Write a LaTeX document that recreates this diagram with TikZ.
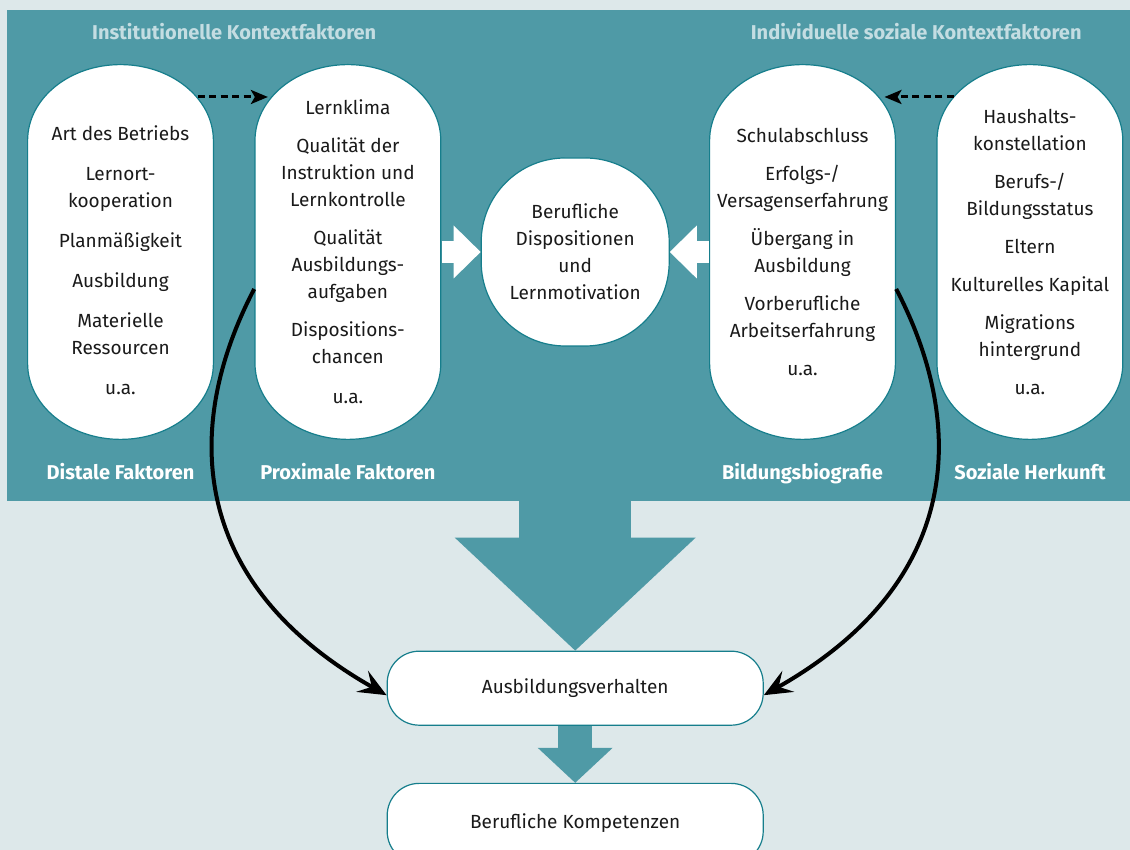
\documentclass[tikz,border=0pt]{standalone}
\usepackage{fontspec}
\setmainfont{Fira Sans}
\usetikzlibrary{positioning,arrows.meta,calc}

\definecolor{panelteal}{RGB}{79,154,166}
\definecolor{paleblue}{RGB}{221,232,234}
\definecolor{edgeteal}{RGB}{22,126,140}
\definecolor{titletint}{RGB}{196,221,226}
\definecolor{inktext}{RGB}{26,26,26}

\begin{document}
\begin{tikzpicture}[
  x=1pt, y=1pt,
  node distance=40pt,
  font=\fontsize{19}{27}\selectfont,
  capsule/.style={minimum width=187pt, minimum height=376pt, inner sep=0pt,
    align=center, text=inktext,
    path picture={
      \draw[edgeteal, line width=1.2pt, fill=white]
        ([xshift=0.6pt, yshift=-76.6pt]path picture bounding box.north west)
        arc[start angle=180, end angle=0, x radius=92.9pt, y radius=76pt]
        -- ([xshift=-0.6pt, yshift=76.6pt]path picture bounding box.south east)
        arc[start angle=0, end angle=-180, x radius=92.9pt, y radius=76pt]
        -- cycle;
    }},
  dispo/.style={draw=edgeteal, line width=1.2pt, fill=white, rounded corners=84pt,
    minimum size=188pt, inner sep=0pt, align=center, text=inktext},
  flowbox/.style={draw=edgeteal, line width=1.2pt, fill=white, rounded corners=32pt,
    minimum width=376pt, minimum height=74pt, text=inktext},
  title/.style={font=\fontsize{20}{24}\selectfont\bfseries, text=titletint},
  bottomlabel/.style={font=\fontsize{20}{24}\selectfont\bfseries, text=white},
  bigarrow/.style={panelteal, line width=112pt, -{Triangle[length=113pt, width=241pt, line width=0pt]}},
  smallarrow/.style={panelteal, line width=34pt, -{Triangle[length=35pt, width=75pt, line width=0pt]}},
  whitearrow/.style={white, line width=22pt, -{Triangle[length=27pt, width=53pt, line width=0pt]}},
  dasharrow/.style={line width=3pt, dash pattern=on 7pt off 4.5pt, -{Stealth[length=17pt, width=14pt, inset=4pt]}},
  curvearrow/.style={line width=4pt, -{Stealth[length=28pt, width=24pt, inset=11pt]}}
]
\path[use as bounding box, fill=paleblue] (0,0) rectangle (1130,850);
\node[fill=panelteal, anchor=south west, minimum width=1123pt, minimum height=491pt,
  inner sep=0pt] (panel) at (7,349) {};

% the four factor groups and the dispositions in the middle
\node[capsule] (distal) at (120.5,598) {\rule{0pt}{32pt}Art des Betriebs\\[13pt]
Lernort-\\kooperation\\[13pt]
Planmäßigkeit\\[13pt]
Ausbildung\\[13pt]
Materielle\\Ressourcen\\[13pt]
u.a.};
\node[capsule, right=of distal] (prox) {Lernklima\\[11pt]
Qualität der\\Instruktion und\\Lernkontrolle\\[11pt]
Qualität\\Ausbildungs-\\aufgaben\\[11pt]
Dispositions-\\chancen\\[13pt]
u.a.};
\node[dispo, right=39pt of prox] (dispo) {Berufliche\\Dispositionen\\und\\Lernmotivation};
\node[capsule, right=39pt of dispo] (bildung) {Schulabschluss\\[11pt]
Erfolgs-/\\Versagenserfahrung\\[11pt]
Übergang in\\Ausbildung\\[11pt]
Vorberufliche\\Arbeitserfahrung\\[11pt]
u.a.};
\node[capsule, right=of bildung] (herkunft) {Haushalts-\\konstellation\\[11pt]
Berufs-/\\Bildungsstatus\\[11pt]
Eltern\\[11pt]
Kulturelles Kapital\\[11pt]
Migrations\\hintergrund\\[11pt]
u.a.};

% headings
\node[title, anchor=base] (insttitle) at ($(distal.north)!.5!(prox.north)+(0,24)$) {Institutionelle Kontextfaktoren};
\node[title, anchor=base] (indtitle) at ($(bildung.north)!.5!(herkunft.north)+(0,24)$) {Individuelle soziale Kontextfaktoren};
\node[bottomlabel, below=39pt of distal.south, anchor=base] (distlab) {Distale Faktoren};
\node[bottomlabel, below=39pt of prox.south, anchor=base] (proxlab) {Proximale Faktoren};
\node[bottomlabel, below=39pt of bildung.south, anchor=base] (bildlab) {Bildungsbiografie};
\node[bottomlabel, below=39pt of herkunft.south, anchor=base] (herklab) {Soziale Herkunft};

% outcome boxes
\node[flowbox, below=304pt of dispo] (verhalten) {Ausbildungsverhalten};
\node[flowbox, below=57pt of verhalten, minimum height=80pt] (kompetenz) {Berufliche Kompetenzen};

% block arrows
\draw[bigarrow] ([yshift=2pt]verhalten.north |- panel.south) -- (verhalten.north);
\draw[smallarrow] (verhalten) -- (kompetenz);
\draw[whitearrow] (prox.east) -- (dispo.west);
\draw[whitearrow] (bildung.west) -- (dispo.east);

% influences
\draw[dasharrow] ($(distal.center)+(77,155)$) -- ($(prox.center)+(-80,155)$);
\draw[dasharrow] ($(herkunft.center)+(-76,155)$) -- ($(bildung.center)+(82,155)$);
\draw[curvearrow] ([yshift=-37pt]prox.west) .. controls +(-72,-138) and +(-198,112) .. ([yshift=-7pt]verhalten.west);
\draw[curvearrow] ([yshift=-37pt]bildung.east) .. controls +(72,-138) and +(198,112) .. ([yshift=-7pt]verhalten.east);
\end{tikzpicture}
\end{document}
